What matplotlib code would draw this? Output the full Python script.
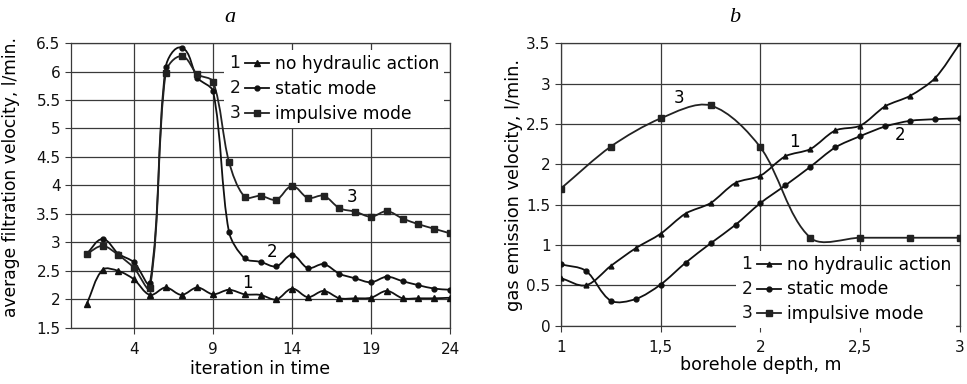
import numpy as np
import matplotlib
matplotlib.use('Agg')
import matplotlib.pyplot as plt
from matplotlib.path import Path
from matplotlib.patches import PathPatch
from matplotlib.lines import Line2D
from matplotlib.text import Text
from matplotlib.legend_handler import HandlerLine2D

plt.rcParams['font.family'] = ['DejaVu Sans']

# chart a: iteration in time
iter_x = list(range(1, 25))
a_no_action = [1.92, 2.52, 2.50, 2.35, 2.08, 2.21, 2.08, 2.21, 2.09, 2.17, 2.09, 2.08,
               2.00, 2.19, 2.04, 2.15, 2.02, 2.02, 2.03, 2.15, 2.02, 2.02, 2.02, 2.03]
a_static = [2.80, 3.06, 2.80, 2.65, 2.28, 6.08, 6.42, 5.89, 5.65, 3.19, 2.72, 2.66,
            2.58, 2.78, 2.55, 2.62, 2.45, 2.37, 2.30, 2.40, 2.32, 2.25, 2.19, 2.17]
a_impulsive = [2.80, 2.94, 2.78, 2.55, 2.20, 5.98, 6.27, 5.95, 5.82, 4.42, 3.80, 3.82,
               3.75, 3.99, 3.78, 3.82, 3.60, 3.54, 3.45, 3.55, 3.42, 3.32, 3.24, 3.16]

# chart b: borehole depth
depth_x = [1.0, 1.125, 1.25, 1.375, 1.5, 1.625, 1.75, 1.875, 2.0,
           2.125, 2.25, 2.375, 2.5, 2.625, 2.75, 2.875, 3.0]
b_no_action = [0.59, 0.50, 0.74, 0.96, 1.14, 1.39, 1.52, 1.77, 1.86,
               2.10, 2.19, 2.42, 2.48, 2.72, 2.85, 3.07, 3.50]
b_static = [0.76, 0.68, 0.31, 0.33, 0.51, 0.78, 1.02, 1.25, 1.52,
            1.74, 1.97, 2.21, 2.35, 2.47, 2.54, 2.56, 2.57]
depth_x3 = [1.0, 1.25, 1.5, 1.75, 2.0, 2.25, 2.5, 2.75, 3.0]
b_impulsive = [1.70, 2.22, 2.57, 2.73, 2.21, 1.09, 1.09, 1.09, 1.09]

labels = ['no hydraulic action', 'static mode', 'impulsive mode']
numbers = ['1', '2', '3']


def smooth_path(ax, x, y, k=0.3):
    # smoothed line like Excel: tangent along neighbours, handle length
    # proportional to each segment, computed in screen space
    pts = ax.transData.transform(np.column_stack([x, y]).astype(float))
    n = len(pts)
    tang = []
    for i in range(n):
        d = pts[min(i + 1, n - 1)] - pts[max(i - 1, 0)]
        tang.append(d / np.hypot(*d))
    verts = [pts[0]]
    codes = [Path.MOVETO]
    for i in range(n - 1):
        L = np.hypot(*(pts[i + 1] - pts[i]))
        verts += [pts[i] + tang[i] * L * k, pts[i + 1] - tang[i + 1] * L * k, pts[i + 1]]
        codes += [Path.CURVE4] * 3
    verts = ax.transData.inverted().transform(np.array(verts))
    return Path(verts, codes)


class NumberedHandler(HandlerLine2D):
    def __init__(self, num, offset=10, **kw):
        super().__init__(**kw)
        self.num = num
        self.offset = offset

    def create_artists(self, legend, orig_handle, xdescent, ydescent,
                       width, height, fontsize, trans):
        arts = super().create_artists(legend, orig_handle, xdescent - self.offset,
                                      ydescent, width - self.offset, height,
                                      fontsize, trans)
        t = Text(-xdescent, (height - ydescent) / 2, self.num, fontsize=fontsize,
                 va='center', ha='left', transform=trans, color='#111111')
        return [t] + arts


def draw_series(ax, x, y, marker, ms, color='#111111'):
    ax.add_patch(PathPatch(smooth_path(ax, x, y), fill=False, ec=color, lw=1.3, zorder=3))
    ax.plot(x, y, ls='none', marker=marker, ms=ms, color=color, zorder=4)
    return Line2D([], [], color=color, lw=1.3, marker=marker, ms=ms)


def style_axes(ax):
    ax.grid(True, color='#3a3a3a', lw=0.9)
    ax.set_axisbelow(True)
    for s in ax.spines.values():
        s.set_color('#3a3a3a')
        s.set_linewidth(0.9)
    ax.tick_params(length=4, color='#3a3a3a', labelsize=11, labelcolor='#111111')
    ax.tick_params(axis='x', pad=6)


def add_legend(ax, handles, **kw):
    leg = ax.legend(handles, labels, fontsize=12.3, handlelength=2.3, handletextpad=0.35,
                    labelspacing=0.4, borderpad=0.3, borderaxespad=0,
                    frameon=True, fancybox=False, framealpha=1,
                    handler_map={h: NumberedHandler(n, offset=11) for h, n in zip(handles, numbers)},
                    **kw)
    leg.get_frame().set_edgecolor('none')
    leg.set_zorder(6)
    return leg


fig = plt.figure(figsize=(9.67, 3.84), dpi=100)

# ---- chart a
ax1 = fig.add_axes([0.0734, 0.146, 0.392, 0.742])
ax1.set_xlim(0, 24)
ax1.set_ylim(1.5, 6.5)
h1 = [draw_series(ax1, iter_x, a_no_action, '^', 4),
      draw_series(ax1, iter_x, a_static, 'o', 3.5),
      draw_series(ax1, iter_x, a_impulsive, 's', 5, '#222222')]
ax1.set_xticks([4, 9, 14, 19, 24])
ax1.set_yticks(np.arange(1.5, 6.51, 0.5))
ax1.set_yticklabels(['%g' % v for v in np.arange(1.5, 6.51, 0.5)])
style_axes(ax1)
ax1.set_xlabel('iteration in time', fontsize=12.5, labelpad=2)
ax1.set_ylabel('average filtration velocity, l/min.', fontsize=12.3, labelpad=8)
ax1.yaxis.set_label_coords(-0.135, 0.53)
ax1.text(11.17, 2.28, '1', fontsize=12, ha='center', va='center', zorder=5)
ax1.text(12.75, 2.84, '2', fontsize=12, ha='center', va='center', zorder=5)
ax1.text(17.8, 3.80, '3', fontsize=12, ha='center', va='center', zorder=5)
add_legend(ax1, h1, loc='upper right', bbox_to_anchor=(0.985, 0.975))

# ---- chart b
ax2 = fig.add_axes([0.580, 0.152, 0.4128, 0.735])
ax2.set_xlim(1, 3)
ax2.set_ylim(0, 3.5)
h2 = [draw_series(ax2, depth_x, b_no_action, '^', 3.5),
      draw_series(ax2, depth_x, b_static, 'o', 3.5),
      draw_series(ax2, depth_x3, b_impulsive, 's', 4.5, '#222222')]
ax2.set_xticks([1, 1.5, 2, 2.5, 3])
ax2.set_xticklabels(['1', '1,5', '2', '2,5', '3'])
ax2.set_yticks(np.arange(0, 3.51, 0.5))
ax2.set_yticklabels(['%g' % v for v in np.arange(0, 3.51, 0.5)])
style_axes(ax2)
ax2.set_xlabel('borehole depth, m', fontsize=12.5, labelpad=1)
ax2.set_ylabel('gas emission velocity, l/min.', fontsize=12.8, labelpad=2)
ax2.text(1.59, 2.82, '3', fontsize=12, ha='center', va='center', zorder=5)
ax2.text(2.17, 2.28, '1', fontsize=12, ha='center', va='center', zorder=5)
ax2.text(2.70, 2.36, '2', fontsize=12, ha='center', va='center', zorder=5)
add_legend(ax2, h2, loc='lower right', bbox_to_anchor=(0.99, -0.01))

fig.text(230 / 967, 1 - 18 / 384, 'a', fontsize=16, style='italic',
         family='Liberation Serif', ha='center', va='center')
fig.text(735 / 967, 1 - 18 / 384, 'b', fontsize=16, style='italic',
         family='Liberation Serif', ha='center', va='center')

fig.savefig('out.png', dpi=100)
